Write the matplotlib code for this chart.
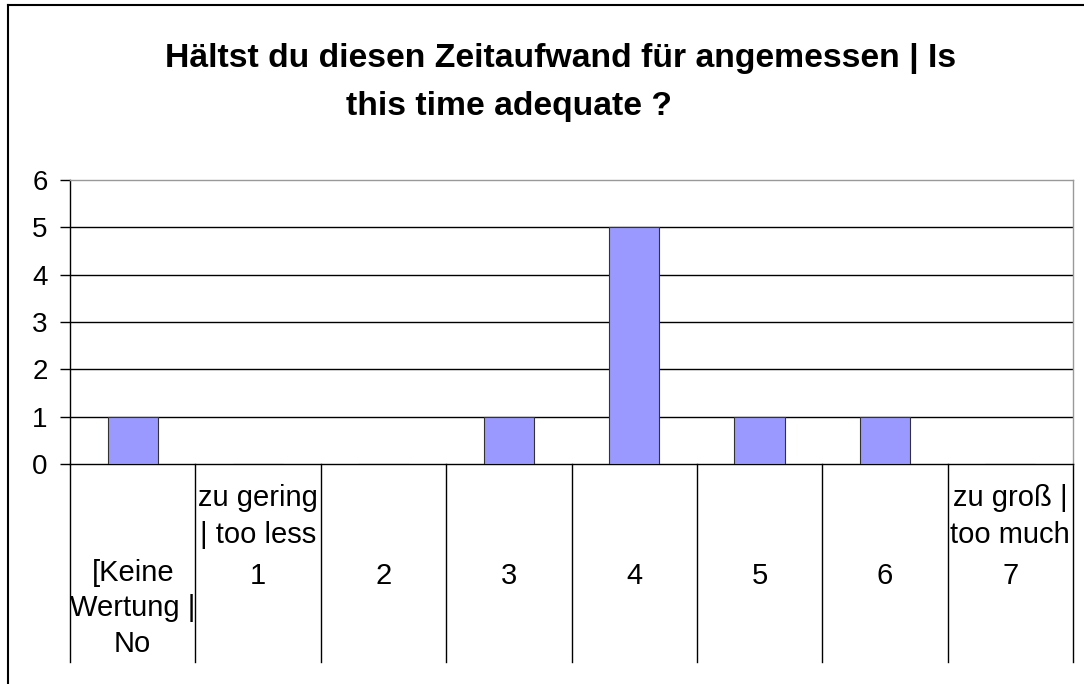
import numpy as np
import matplotlib
matplotlib.use('Agg')
from matplotlib import pyplot as plt
from matplotlib.lines import Line2D

# chart data
categories = ['[Keine\nWertung |\nNo', '1', '2', '3', '4', '5', '6', '7']
top_labels = ['', 'zu gering\n| too less', '', '', '', '', '', 'zu groß |\ntoo much']
counts = [1, 0, 0, 1, 5, 1, 1, 0]
y_ticks = [0, 1, 2, 3, 4, 5, 6]

plt.rcParams['font.family'] = ['Liberation Sans', 'DejaVu Sans']

W, H = 1084, 684
fig = plt.figure(figsize=(W / 100, H / 100), dpi=100)
ax = fig.add_axes([70 / W, 1 - 464 / H, 1003 / W, 284 / H])

x = np.arange(len(categories))
ax.bar(x, counts, width=0.4, color='#9999ff', edgecolor='#333333', linewidth=0.8, zorder=3)

ax.set_xlim(-0.5, len(categories) - 0.5)
ax.set_ylim(0, 6)
ax.set_yticks(y_ticks)
ax.set_yticklabels([str(t) for t in y_ticks], fontsize=20)
ax.tick_params(axis='y', length=7, width=1, pad=9, color='black')
ax.set_xticks([])
for t in y_ticks[1:-1]:
    ax.axhline(t, color='black', linewidth=1, zorder=1)

ax.spines['top'].set_color('#999999')
ax.spines['right'].set_color('#999999')
ax.spines['left'].set_color('black')
ax.spines['bottom'].set_color('black')
for s in ax.spines.values():
    s.set_linewidth(1)

# category separators below the axis
trans = ax.get_xaxis_transform()
for b in np.arange(len(categories) + 1) - 0.5:
    ax.plot([b, b], [0, -0.697], transform=trans, color='black', linewidth=1, clip_on=False)

# category labels (multi-line texts are placed by the baseline of their last line)
for i, lab in enumerate(categories):
    n_lines = lab.count('\n')
    y_base = 584 + 34 * n_lines
    ax.text(i, (464 - y_base) / 284, lab, transform=trans, ha='center', va='baseline',
            fontsize=21, linespacing=1.35)
for i, lab in enumerate(top_labels):
    if lab:
        ax.text(i, (464 - 543) / 284, lab, transform=trans, ha='center', va='baseline',
                fontsize=21, linespacing=1.4)

# title
fig.text(561 / W, 1 - 67 / H, 'Hältst du diesen Zeitaufwand für angemessen | Is',
         ha='center', va='baseline', fontsize=24.3, fontweight='bold')
fig.text(509 / W, 1 - 115 / H, 'this time adequate ?',
         ha='center', va='baseline', fontsize=24.3, fontweight='bold')

# outer chart border (left and top)
fig.add_artist(Line2D([8 / W, 8 / W], [0, 1 - 5 / H], color='black', linewidth=1.5))
fig.add_artist(Line2D([8 / W, 1], [1 - 5 / H, 1 - 5 / H], color='black', linewidth=1.5))

plt.savefig('out.png', dpi=100)
